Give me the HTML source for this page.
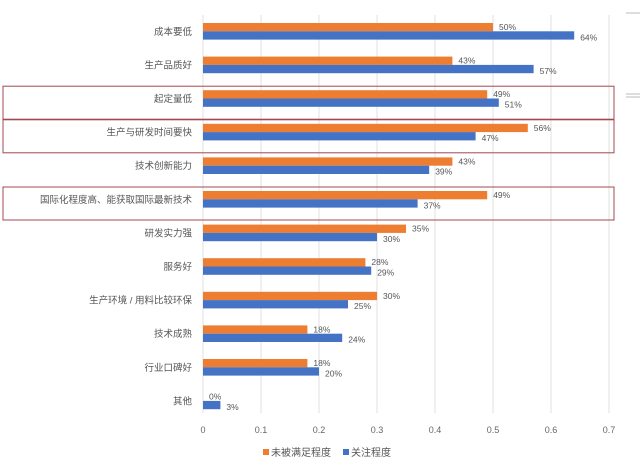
<!DOCTYPE html>
<html><head><meta charset="utf-8"><style>
body{margin:0;background:#fff;}
svg{display:block;font-family:"Liberation Sans","Noto Sans CJK SC",sans-serif;}
</style></head><body>
<svg id="chart" width="640" height="462" viewBox="0 0 640 462" xmlns="http://www.w3.org/2000/svg">
<g id="grid"></g>
<g id="boxes"></g>
<g id="bars"></g>
<g id="labels"></g>
<g>
<rect x="263" y="449" width="6" height="6" fill="#ed7d31"/>
<text x="271" y="456" font-size="10" fill="#555">未被满足程度</text>
<rect x="343" y="449" width="6" height="6" fill="#4472c4"/>
<text x="351" y="456" font-size="10" fill="#555">关注程度</text>
</g>
<g stroke="#bbb" stroke-width="1">
<line x1="626" y1="13" x2="640" y2="13"/>
<line x1="626" y1="94" x2="640" y2="94"/>
<line x1="626" y1="97" x2="640" y2="97"/>
</g>
</svg>
<script>
const categories=["成本要低","生产品质好","起定量低","生产与研发时间要快","技术创新能力","国际化程度高、能获取国际最新技术","研发实力强","服务好","生产环境 / 用料比较环保","技术成熟","行业口碑好","其他"];
const unmet=[0.50,0.43,0.49,0.56,0.43,0.49,0.35,0.28,0.30,0.18,0.18,0.00];
const attention=[0.64,0.57,0.51,0.47,0.39,0.37,0.30,0.29,0.25,0.24,0.20,0.03];
const ticks=[0,0.1,0.2,0.3,0.4,0.5,0.6,0.7];
const highlighted=[2,3,5];
const NS="http://www.w3.org/2000/svg";
const x=v=>203+v*580;
const rowTop=i=>23+i*33.6;
const BH=8.3;
function mk(tag,attrs,parent){const e=document.createElementNS(NS,tag);for(const k in attrs)e.setAttribute(k,attrs[k]);parent.appendChild(e);return e;}
const grid=document.getElementById('grid'),bars=document.getElementById('bars'),labels=document.getElementById('labels'),boxes=document.getElementById('boxes');
ticks.forEach(t=>{
  const l=mk('line',{x1:x(t),x2:x(t),y1:15,y2:413,stroke:'#e2e2e2','stroke-width':1},grid);
  
  
  const tx=mk('text',{x:x(t),y:433,'font-size':9,fill:'#666','text-anchor':'middle'},labels);
  tx.textContent=String(t);
  
  
});
highlighted.forEach(i=>{
  const r=mk('rect',{x:3,y:rowTop(i)-4,width:611,height:33,fill:'none',stroke:'#a04a50','stroke-width':1},boxes);
  
  
});
categories.forEach((c,i)=>{
  const y=rowTop(i);
  const t=mk('text',{x:192,y:y+BH+3.5,'font-size':9.5,fill:'#555','text-anchor':'end'},labels);
  t.textContent=c;
  
  
  const o=mk('rect',{x:x(0),y:y,width:x(unmet[i])-x(0),height:BH,fill:'#ed7d31'},bars);
  
  
  const b=mk('rect',{x:x(0),y:y+BH,width:x(attention[i])-x(0),height:BH,fill:'#4472c4'},bars);
  
  
  const ol=mk('text',{x:x(unmet[i])+6,y:y+7,'font-size':8.5,fill:'#555'},labels);
  ol.textContent=Math.round(unmet[i]*100)+'%';
  
  
  const bl=mk('text',{x:x(attention[i])+6,y:y+BH+9,'font-size':8.5,fill:'#555'},labels);
  bl.textContent=Math.round(attention[i]*100)+'%';
  
  
});
</script>
</body></html>
